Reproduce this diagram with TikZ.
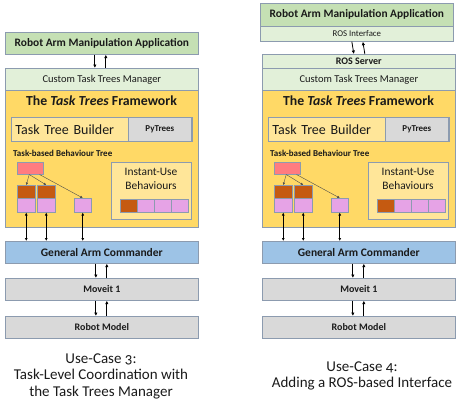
\documentclass[tikz,border=0pt]{standalone}
\usepackage{fontspec}
\setmainfont{Carlito}
\newfontfamily\capfont[Numbers=OldStyle]{Carlito}
\definecolor{ttApp}{HTML}{C5E0B4}
\definecolor{ttMgr}{HTML}{E2F0D9}
\definecolor{ttYellow}{HTML}{FFD966}
\definecolor{ttLight}{HTML}{FFE699}
\definecolor{ttGray}{HTML}{D9D9D9}
\definecolor{ttBlue}{HTML}{9DC3E6}
\definecolor{ttRed}{HTML}{FF7C80}
\definecolor{ttBrown}{HTML}{C55A11}
\definecolor{ttPink}{HTML}{E6A3E6}
\definecolor{ttBorder}{HTML}{8C9BAF}
\definecolor{ttText}{HTML}{1A1A1A}
\usetikzlibrary{arrows.meta,positioning}
\tikzset{
  layer/.style={draw=ttBorder, line width=0.7pt, minimum width=193, minimum height=22, inner sep=0, anchor=north west, text=ttText},
  cell/.style={draw=ttBorder, line width=0.5pt, inner sep=0, anchor=north west, minimum width=17, minimum height=13},
  flow/.style={-{Latex[length=3.5pt,width=3.5pt]}, line width=0.8pt},
  twoway/.style={{Latex[length=3pt,width=3pt]}-{Latex[length=3pt,width=3pt]}, line width=0.7pt},
  branch/.style={-{Latex[length=2.5pt,width=2.5pt]}, line width=0.4pt, draw=black!70},
}
\newcommand{\fs}[1]{\fontsize{#1}{#1}\selectfont}

\begin{document}
\begin{tikzpicture}[x=1pt, y=-1pt]
  \useasboundingbox (0,0) rectangle (459,400);

  % Use-Case 3: top of the stack
  \node[layer, fill=ttApp, font=\fs{11.4}\bfseries] (Lapp) at (5,32) {Robot Arm Manipulation Application};

  % Use-Case 4: top of the stack with ROS interface
  \node[layer, fill=ttApp, minimum height=23, font=\fs{11.4}\bfseries] (Rapp) at (260,3) {Robot Arm Manipulation Application};
  \node[layer, fill=ttMgr, minimum height=15, font=\fs{8.8}] (Rrosif) at (260,26) {ROS Interface};
  \node[layer, fill=ttMgr, minimum height=14, font=\fs{10}\bfseries] (Rrossrv) at (262,54) {ROS Server};

  % the common part of both stacks
  \foreach \p/\dx in {L/0,R/257}{
    \begin{scope}[xshift=\dx]
      \node[layer, fill=ttMgr, font=\fs{10.5}] (\p mgr) at (5,68) {Custom Task Trees Manager};
      \node[layer, fill=ttYellow, minimum height=137] (\p fw) at (5,90) {};
      \node[font=\fs{13.8}\bfseries, text=ttText] (\p title) at (101.5,101) {The \textit{Task Trees} Framework};

      % builder
      \node[layer, fill=ttLight, minimum width=181, minimum height=24, text width=173, inner xsep=4, align=left, font=\fs{14}] (\p builder) at (11,117) {Task Tree Builder};
      \node[layer, fill=ttGray, minimum width=63, minimum height=24, font=\fs{9}\bfseries] (\p pytrees) at (128,117) {PyTrees};

      % behaviour tree
      \node[anchor=west, inner sep=0, font=\fs{9}\bfseries, text=ttText] (\p btlabel) at (13,153) {Task-based Behaviour Tree};
      \node[cell, fill=ttRed, minimum width=26, minimum height=12] (\p root) at (17,162) {};
      \node[cell, fill=ttBrown, minimum width=18] (\p b1) at (17,185) {};
      \node[cell, fill=ttPink, minimum width=18, minimum height=14] (\p p1) at (17,198) {};
      \node[cell, fill=ttBrown, minimum width=18] (\p b2) at (37,185) {};
      \node[cell, fill=ttPink, minimum width=18, minimum height=14] (\p p2) at (37,198) {};
      \node[cell, fill=ttPink, minimum height=14] (\p p3) at (74,198) {};
      \draw[branch] ([xshift=-1]\p root.south) -- (\p b1.north);
      \draw[branch] ([xshift=-1]\p root.south) -- (\p b2.north);
      \draw[branch] ([xshift=-4]\p root.south east) -- (\p p3.north);

      % instant-use behaviours
      \node[layer, fill=ttLight, minimum width=80, minimum height=57] (\p inst) at (111,162) {};
      \node[align=center, font=\fs{11.4}, text=ttText, inner sep=0] (\p insttxt) at (151,179) {Instant-Use\\[2pt]Behaviours};
      \node[cell, fill=ttBrown] (\p ib) at (120,199) {};
      \node[cell, fill=ttPink] (\p ip1) at (137,199) {};
      \node[cell, fill=ttPink] (\p ip2) at (154,199) {};
      \node[cell, fill=ttPink] (\p ip3) at (171,199) {};

      % lower layers
      \node[layer, fill=ttBlue, font=\fs{11.5}\bfseries] (\p gac) at (5,241) {General Arm Commander};
      \node[layer, fill=ttGray, font=\fs{10}\bfseries] (\p mv) at (5,278) {Moveit 1};
      \node[layer, fill=ttGray, font=\fs{10}\bfseries] (\p rm) at (5,316) {Robot Model};

      \draw[twoway] (\p p1.south) -- (\p p1.south |- \p gac.north);
      \draw[twoway] (\p p2.south) -- (\p p2.south |- \p gac.north);
      \draw[twoway] (\p p3.south) -- (\p p3.south |- \p gac.north);
      \draw[flow] ([xshift=-6]\p gac.south) -- ([xshift=-6]\p mv.north);
      \draw[flow] ([xshift=5]\p mv.north) -- ([xshift=5]\p gac.south);
      \draw[flow] ([xshift=-6]\p mv.south) -- ([xshift=-6]\p rm.north);
      \draw[flow] ([xshift=5]\p rm.north) -- ([xshift=5]\p mv.south);
    \end{scope}
  }

  % connectors at the top
  \draw[flow] ([xshift=-7]Lapp.south) -- ([xshift=-7]Lmgr.north);
  \draw[flow] ([xshift=4]Lmgr.north) -- ([xshift=4]Lapp.south);
  \draw[flow] ([xshift=-5]Rrosif.south) -- ([xshift=-5]Rrossrv.north);
  \draw[flow] ([xshift=6]Rrossrv.north) -- ([xshift=6]Rrosif.south);

  % captions
  \node[align=center, font=\capfont\fs{15}, text=ttText] (Lcap) at (101,376) {Use-Case 3:\\[1.5pt]Task-Level Coordination with\\[1.5pt]the Task Trees Manager};
  \node[align=center, font=\capfont\fs{15}, text=ttText] (Rcap) at (362,376) {Use-Case 4:\\[1.5pt]Adding a ROS-based Interface};
\end{tikzpicture}
\end{document}
